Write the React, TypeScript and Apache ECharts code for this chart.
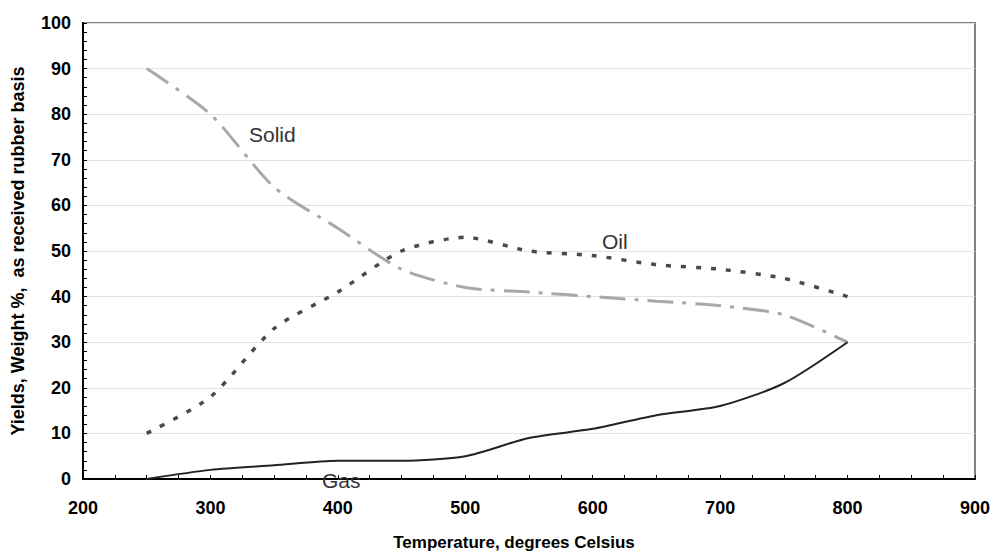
import React, { useEffect, useRef } from "react";
import * as echarts from "echarts";

const temperatures = [250, 300, 350, 400, 450, 500, 550, 600, 650, 700, 750, 800];
const solidYield = [90, 80, 64, 55, 46, 42, 41, 40, 39, 38, 36, 30];
const oilYield = [10, 18, 33, 41, 50, 53, 50, 49, 47, 46, 44, 40];
const gasYield = [0, 2, 3, 4, 4, 5, 9, 11, 14, 16, 21, 30];

const annotations = [
  { text: "Solid", x: 249, y: 135 },
  { text: "Oil", x: 602, y: 242 },
  { text: "Gas", x: 322, y: 481 },
];

const pairs = (ys: number[]) => temperatures.map((t, i) => [t, ys[i]]);

export default function App() {
  const ref = useRef<HTMLDivElement>(null);
  useEffect(() => {
    if (!ref.current) return;
    const chart = echarts.init(ref.current, null, { renderer: "svg" });
    const font = "'Liberation Sans', Arial, sans-serif";
    chart.setOption({
      animation: false,
      backgroundColor: "#ffffff",
      grid: {
        left: 83,
        right: 16,
        top: 23,
        bottom: 72,
        show: true,
        borderColor: "#808080",
        borderWidth: 2,
        backgroundColor: "#ffffff",
      },
      xAxis: {
        type: "value",
        min: 200,
        max: 900,
        interval: 100,
        name: "Temperature, degrees Celsius",
        nameLocation: "middle",
        nameGap: 55,
        nameTextStyle: {
          fontFamily: font,
          fontWeight: "bold",
          fontSize: 17,
          color: "#000",
          padding: [0, 30, 0, 0],
        },
        axisLine: { show: true, onZero: false, lineStyle: { color: "#000", width: 2 } },
        axisTick: { show: true, inside: true, length: 4, lineStyle: { color: "#000", width: 1 } },
        minorTick: { show: true, splitNumber: 4, length: 4, lineStyle: { color: "#000", width: 1 } },
        splitLine: { show: false },
        axisLabel: {
          margin: 20,
          fontFamily: font,
          fontWeight: "bold",
          fontSize: 18,
          color: "#000",
        },
      },
      yAxis: {
        type: "value",
        min: 0,
        max: 100,
        interval: 10,
        name: "Yields, Weight %,  as received rubber basis",
        nameLocation: "middle",
        nameGap: 56,
        nameTextStyle: {
          fontFamily: font,
          fontWeight: "bold",
          fontSize: 18,
          color: "#000",
        },
        axisLine: { show: true, lineStyle: { color: "#000", width: 2 } },
        axisTick: { show: true, inside: true, length: 4, lineStyle: { color: "#000", width: 1 } },
        minorTick: { show: true, splitNumber: 5, length: 4, lineStyle: { color: "#000", width: 1 } },
        splitLine: { show: true, lineStyle: { color: "#e2e2e2", width: 1 } },
        axisLabel: {
          margin: 12,
          fontFamily: font,
          fontWeight: "bold",
          fontSize: 18,
          color: "#000",
        },
      },
      series: [
        {
          name: "Solid",
          type: "line",
          data: pairs(solidYield),
          smooth: 0.25,
          showSymbol: false,
          symbol: "none",
          lineStyle: { color: "#a8a8a8", width: 3, type: [26, 9, 4, 9], cap: "butt" },
          z: 3,
        },
        {
          name: "Oil",
          type: "line",
          data: pairs(oilYield),
          smooth: 0.25,
          showSymbol: false,
          symbol: "none",
          lineStyle: { color: "#4a4a4a", width: 3.5, type: [5, 10], cap: "butt" },
          z: 4,
        },
        {
          name: "Gas",
          type: "line",
          data: pairs(gasYield),
          smooth: 0.25,
          showSymbol: false,
          symbol: "none",
          lineStyle: { color: "#222222", width: 2, type: "solid" },
          z: 5,
        },
      ],
      graphic: annotations.map((a) => ({
        type: "text",
        left: a.x,
        top: a.y - 11,
        z: 10,
        style: {
          text: a.text,
          fontFamily: font,
          fontSize: 21,
          fill: "#333333",
        },
      })),
    });
    return () => chart.dispose();
  }, []);
  return (
    <div
      ref={ref}
      style={{ position: "absolute", left: 0, top: 0, width: 993, height: 556 }}
    />
  );
}
